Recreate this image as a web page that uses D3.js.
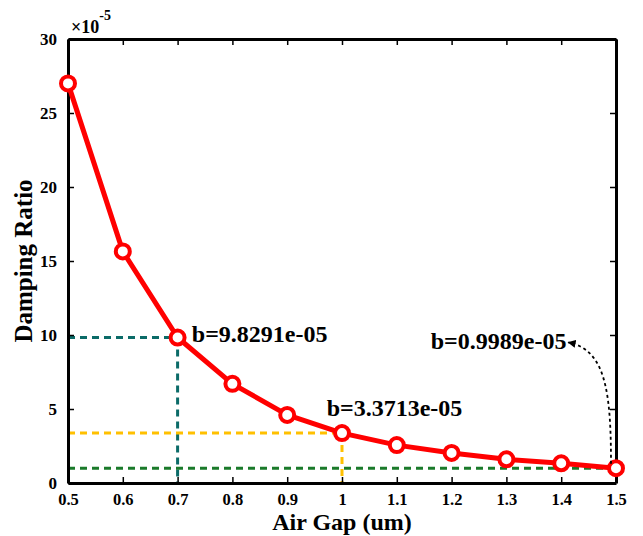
<!DOCTYPE html>
<html>
<head>
<meta charset="utf-8">
<script src="https://cdn.jsdelivr.net/npm/d3@7"></script>
<style>
  body { margin: 0; background: #fff; }
  text { font-family: "Liberation Serif", "Times New Roman", serif; font-weight: bold; }
</style>
</head>
<body>
<svg id="chart"></svg>
<script>
// data (damping ratio in units of 1e-5)
const airGap = [0.5, 0.6, 0.7, 0.8, 0.9, 1.0, 1.1, 1.2, 1.3, 1.4, 1.5];
const damping = [27.0, 15.65, 9.8291, 6.7, 4.6, 3.3713, 2.56, 2.03, 1.6, 1.33, 0.9989];
const xTicks = [0.5, 0.6, 0.7, 0.8, 0.9, 1, 1.1, 1.2, 1.3, 1.4, 1.5];
const yTicks = [0, 5, 10, 15, 20, 25, 30];
const guides = [
  { x: 0.7, y: 9.8291, color: "#0b6b68", vertical: true },
  { x: 1.0, y: 3.3713, color: "#ffc000", vertical: true },
  { x: 1.5, y: 0.9989, color: "#1a7a2a", vertical: false }
];
const notes = [
  { text: "b=9.8291e-05", x: 0.726, y: 9.55 },
  { text: "b=3.3713e-05", x: 0.972, y: 4.55 },
  { text: "b=0.9989e-05", x: 1.162, y: 9.05 }
];

const width = 643;
const height = 536;
const margin = { left: 68, right: 27, top: 39, bottom: 53 };

const svg = d3.select("svg#chart").attr("width", width).attr("height", height);

const x = d3.scaleLinear().domain([0.5, 1.5]).range([margin.left, width - margin.right]);
const y = d3.scaleLinear().domain([0, 30]).range([height - margin.bottom, margin.top]);

// guide lines (drawn under the curve)
const g = svg.append("g").attr("fill", "none").attr("stroke-width", 3).attr("stroke-dasharray", "7,5");
guides.forEach(d => {
  g.append("line")
    .attr("x1", x(0.5)).attr("x2", x(d.x))
    .attr("y1", y(d.y)).attr("y2", y(d.y))
    .attr("stroke", d.color);
  if (d.vertical) {
    g.append("line")
      .attr("x1", x(d.x)).attr("x2", x(d.x))
      .attr("y1", y(d.y)).attr("y2", y(0))
      .attr("stroke", d.color);
  }
});

// axes box with inward ticks
const tick = 6;
svg.append("g").attr("transform", `translate(0,${y(0)})`)
  .call(d3.axisBottom(x).tickValues(xTicks).tickSizeInner(-tick).tickSizeOuter(0).tickPadding(10).tickFormat(d3.format("")))
  .call(a => a.selectAll("text").attr("font-size", 16.5).attr("fill", "#000"));
svg.append("g").attr("transform", `translate(0,${y(30)})`)
  .call(d3.axisTop(x).tickValues(xTicks).tickSizeInner(-tick).tickSizeOuter(0).tickFormat(""));
svg.append("g").attr("transform", `translate(${x(0.5)},0)`)
  .call(d3.axisLeft(y).tickValues(yTicks).tickSizeInner(-tick).tickSizeOuter(0).tickPadding(11))
  .call(a => a.selectAll("text").attr("font-size", 17).attr("fill", "#000"));
svg.append("g").attr("transform", `translate(${x(1.5)},0)`)
  .call(d3.axisRight(y).tickValues(yTicks).tickSizeInner(-tick).tickSizeOuter(0).tickFormat(""));
svg.selectAll(".domain").attr("stroke-width", 3).attr("stroke", "#000");
svg.selectAll(".tick line").attr("stroke-width", 1.5).attr("stroke", "#000");

// curve
const pts = airGap.map((d, i) => [d, damping[i]]);
svg.append("path")
  .datum(pts)
  .attr("fill", "none")
  .attr("stroke", "#ff0000")
  .attr("stroke-width", 5)
  .attr("stroke-linejoin", "round")
  .attr("d", d3.line().x(d => x(d[0])).y(d => y(d[1])));

svg.append("g").selectAll("circle")
  .data(pts)
  .join("circle")
  .attr("cx", d => x(d[0]))
  .attr("cy", d => y(d[1]))
  .attr("r", 7)
  .attr("fill", "#fff")
  .attr("stroke", "#ff0000")
  .attr("stroke-width", 4);

// annotations
svg.append("g").selectAll("text")
  .data(notes)
  .join("text")
  .attr("x", d => x(d.x))
  .attr("y", d => y(d.y))
  .attr("font-size", 24)
  .attr("fill", "#000")
  .text(d => d.text);

// dotted arrow to last point
const ax0 = x(1.5) - 5, ay0 = y(1.3);
const ax1 = x(1.413), ay1 = y(9.5);
svg.append("defs").append("marker")
  .attr("id", "arr").attr("viewBox", "0 0 10 10").attr("refX", 9).attr("refY", 5)
  .attr("markerWidth", 4.5).attr("markerHeight", 4.5).attr("orient", "auto")
  .append("path").attr("d", "M0,0L10,5L0,10z").attr("fill", "#000");
const p = d3.path();
p.moveTo(ax0, ay0);
p.bezierCurveTo(ax0, y(6.3), x(1.48), y(9.0), ax1, ay1);
svg.append("path")
  .attr("d", p.toString())
  .attr("fill", "none")
  .attr("stroke", "#000")
  .attr("stroke-width", 1.8)
  .attr("stroke-dasharray", "3,3")
  .attr("marker-end", "url(#arr)");

// exponent label
const ex = svg.append("text").attr("x", x(0.5) + 3).attr("y", y(30) - 6).attr("font-size", 18).attr("font-weight", "normal");
ex.append("tspan").text("×10");
ex.append("tspan").attr("dy", -13).attr("font-size", 14).text("-5");

// axis titles
svg.append("text")
  .attr("x", (x(0.5) + x(1.5)) / 2)
  .attr("y", height - 6)
  .attr("text-anchor", "middle")
  .attr("font-size", 24)
  .text("Air Gap (um)");
svg.append("text")
  .attr("transform", `translate(32,${(y(0) + y(30)) / 2}) rotate(-90)`)
  .attr("text-anchor", "middle")
  .attr("font-size", 25)
  .text("Damping Ratio");
</script>
</body>
</html>
